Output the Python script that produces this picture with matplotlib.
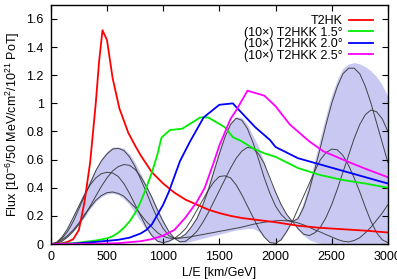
import matplotlib
matplotlib.use("Agg")
import matplotlib.pyplot as plt
import numpy as np

plt.rcParams['font.family'] = ['Liberation Sans', 'DejaVu Sans']
plt.rcParams['mathtext.default'] = 'regular'
plt.rcParams['font.size'] = 9

# beam fluxes
red_x = [0, 100, 150, 200, 250, 300, 350, 400, 430, 460, 500, 550, 610, 690, 750, 800,
         850, 900, 1000, 1100, 1200, 1300, 1400, 1500, 1600, 1700, 1800, 2000, 2200,
         2400, 2600, 2800, 3000]
red_y = [0, 0.005, 0.015, 0.035, 0.10, 0.30, 0.58, 1.0, 1.30, 1.52, 1.45, 1.18, 0.965,
         0.79, 0.70, 0.63, 0.57, 0.51, 0.43, 0.365, 0.315, 0.28, 0.245, 0.22, 0.20,
         0.185, 0.175, 0.155, 0.13, 0.115, 0.105, 0.095, 0.082]

green_x = [0, 200, 400, 500, 550, 600, 650, 700, 750, 800, 850, 900, 950, 985, 1060,
           1170, 1330, 1400, 1550, 1620, 1700, 1800, 1900, 2000, 2200, 2400, 2600,
           2800, 3000]
green_y = [0, 0.005, 0.025, 0.04, 0.055, 0.08, 0.115, 0.16, 0.22, 0.30, 0.40, 0.51,
           0.64, 0.757, 0.81, 0.82, 0.90, 0.90, 0.83, 0.76, 0.73, 0.68, 0.645, 0.62,
           0.54, 0.49, 0.455, 0.43, 0.40]

blue_x = [0, 200, 400, 600, 700, 800, 850, 900, 950, 1000, 1050, 1100, 1150, 1240,
          1360, 1500, 1620, 1670, 1820, 1950, 2000, 2200, 2400, 2600, 2800, 3000]
blue_y = [0, 0.003, 0.015, 0.03, 0.045, 0.075, 0.10, 0.14, 0.21, 0.28, 0.37, 0.48,
          0.59, 0.73, 0.90, 0.99, 1.0, 0.957, 0.83, 0.74, 0.69, 0.61, 0.565, 0.52,
          0.475, 0.43]

mag_x = [0, 400, 600, 800, 900, 1000, 1100, 1200, 1300, 1370, 1450, 1500, 1600,
         1650, 1750, 1900, 2000, 2127, 2300, 2424, 2630, 2800, 3000]
mag_y = [0, 0.002, 0.006, 0.02, 0.035, 0.06, 0.10, 0.19, 0.30, 0.40, 0.58, 0.70,
         0.89, 0.95, 1.09, 1.055, 0.98, 0.85, 0.73, 0.66, 0.59, 0.535, 0.475]

# oscillation probability curves (arbitrary scale), grid step 50
osc_x = list(range(0, 3001, 50))
osc_max = [0, 0.01, 0.04, 0.09, 0.16, 0.25, 0.34, 0.43, 0.52, 0.59, 0.64, 0.675, 0.68,
           0.665, 0.62, 0.55, 0.46, 0.37, 0.27, 0.18, 0.11, 0.06, 0.04, 0.045, 0.07,
           0.12, 0.18, 0.27, 0.38, 0.51, 0.64, 0.76, 0.85, 0.894, 0.88, 0.82, 0.72,
           0.60, 0.47, 0.36, 0.27, 0.21, 0.17, 0.16, 0.18, 0.26, 0.38, 0.53, 0.69,
           0.85, 1.00, 1.12, 1.21, 1.25, 1.25, 1.21, 1.12, 1.00, 0.86, 0.72, 0.58]
osc_d0 = [0, 0.01, 0.05, 0.11, 0.19, 0.27, 0.35, 0.42, 0.47, 0.50, 0.51, 0.505, 0.48,
          0.43, 0.36, 0.28, 0.20, 0.12, 0.06, 0.02, 0.01, 0.02, 0.04, 0.07, 0.11,
          0.17, 0.24, 0.31, 0.38, 0.44, 0.48, 0.485, 0.47, 0.42, 0.35, 0.27, 0.19,
          0.11, 0.05, 0.01, 0.005, 0.03, 0.09, 0.16, 0.25, 0.34, 0.43, 0.52, 0.60,
          0.65, 0.675, 0.67, 0.63, 0.56, 0.47, 0.37, 0.26, 0.16, 0.08, 0.03, 0.01]
osc_d180 = [0, 0.005, 0.02, 0.05, 0.09, 0.14, 0.20, 0.27, 0.34, 0.41, 0.47, 0.52, 0.55,
            0.565, 0.56, 0.53, 0.48, 0.41, 0.33, 0.24, 0.16, 0.09, 0.04, 0.015, 0.02,
            0.05, 0.09, 0.15, 0.22, 0.30, 0.38, 0.46, 0.54, 0.61, 0.66, 0.687, 0.68,
            0.64, 0.57, 0.47, 0.37, 0.28, 0.21, 0.16, 0.11, 0.07, 0.06, 0.08, 0.12,
            0.19, 0.28, 0.39, 0.51, 0.63, 0.75, 0.85, 0.92, 0.953, 0.94, 0.89, 0.80]
osc_min = [0, 0.01, 0.03, 0.06, 0.10, 0.15, 0.21, 0.26, 0.31, 0.345, 0.365, 0.37, 0.36,
           0.34, 0.30, 0.26, 0.21, 0.16, 0.12, 0.08, 0.055, 0.042, 0.04, 0.042, 0.046,
           0.052, 0.06, 0.067, 0.075, 0.082, 0.09, 0.097, 0.105, 0.112, 0.12, 0.13,
           0.14, 0.148, 0.155, 0.16, 0.165, 0.167, 0.165, 0.16, 0.15, 0.136, 0.12,
           0.10, 0.085, 0.067, 0.05, 0.033, 0.02, 0.015, 0.025, 0.045, 0.08, 0.12,
           0.17, 0.22, 0.28]
band_hi = [0, 0.015, 0.055, 0.12, 0.20, 0.29, 0.38, 0.46, 0.54, 0.61, 0.66, 0.69, 0.69,
           0.68, 0.64, 0.58, 0.50, 0.42, 0.34, 0.25, 0.17, 0.09, 0.04, 0.05, 0.08,
           0.13, 0.20, 0.30, 0.42, 0.55, 0.68, 0.79, 0.87, 0.905, 0.90, 0.85, 0.77,
           0.69, 0.58, 0.45, 0.37, 0.28, 0.21, 0.16, 0.20, 0.30, 0.44, 0.60, 0.76,
           0.92, 1.06, 1.17, 1.25, 1.28, 1.29, 1.28, 1.26, 1.23, 1.19, 1.13, 1.05]
band_lo = [0, 0.005, 0.02, 0.05, 0.09, 0.14, 0.19, 0.25, 0.30, 0.335, 0.355, 0.36, 0.35,
           0.32, 0.28, 0.22, 0.16, 0.10, 0.05, 0.015, 0.005, 0.015, 0.04, 0.012, 0.01,
           0.02, 0.03, 0.04, 0.05, 0.06, 0.07, 0.08, 0.09, 0.10, 0.105, 0.11, 0.11,
           0.09, 0.045, 0.01, 0.003, 0.03, 0.09, 0.16, 0.10, 0.06, 0.03, 0.015, 0.005,
           0, 0, 0, 0, 0, 0, 0, 0, 0, 0, 0, 0]

labels = ['T2HK', '(10\u00d7) T2HKK 1.5\u00b0', '(10\u00d7) T2HKK 2.0\u00b0',
          '(10\u00d7) T2HKK 2.5\u00b0']

fig = plt.figure(figsize=(3.97, 2.79), dpi=100)
ax = fig.add_axes([0.128, 0.1254, 0.849, 0.857])

ax.fill_between(osc_x, band_lo, band_hi, color='#c8c8f2', lw=0)
for curve in [osc_max, osc_d0, osc_d180, osc_min]:
    ax.plot(osc_x, curve, color='#333333', lw=0.7, alpha=0.9)

ax.plot(red_x, red_y, color='#ff0000', lw=1.3, label=labels[0])
ax.plot(green_x, green_y, color='#00ee00', lw=1.3, label=labels[1])
ax.plot(blue_x, blue_y, color='#0000ff', lw=1.3, label=labels[2])
ax.plot(mag_x, mag_y, color='#ff00ff', lw=1.3, label=labels[3])

ax.set_xlim(0, 3000)
ax.set_ylim(0, 1.7)
ax.set_xticks(range(0, 3001, 500))
ax.set_yticks([0, 0.2, 0.4, 0.6, 0.8, 1.0, 1.2, 1.4, 1.6])
ax.set_yticklabels(['0', '0.2', '0.4', '0.6', '0.8', '1', '1.2', '1.4', '1.6'])
ax.tick_params(direction='in', top=True, right=True, length=4, width=0.8, pad=5)
for s in ax.spines.values():
    s.set_linewidth(1.0)

ax.set_xlabel('L/E [km/GeV]', labelpad=3)
ax.set_ylabel('Flux [10$^{-6}$/50 MeV/cm$^2$/10$^{21}$ PoT]', labelpad=3)

ax.legend(loc='upper right', bbox_to_anchor=(0.955, 0.958), frameon=False,
          markerfirst=False, handlelength=1.9, handletextpad=0.5,
          labelspacing=-0.03, borderaxespad=0, borderpad=0)

fig.savefig('out.png', dpi=100)
